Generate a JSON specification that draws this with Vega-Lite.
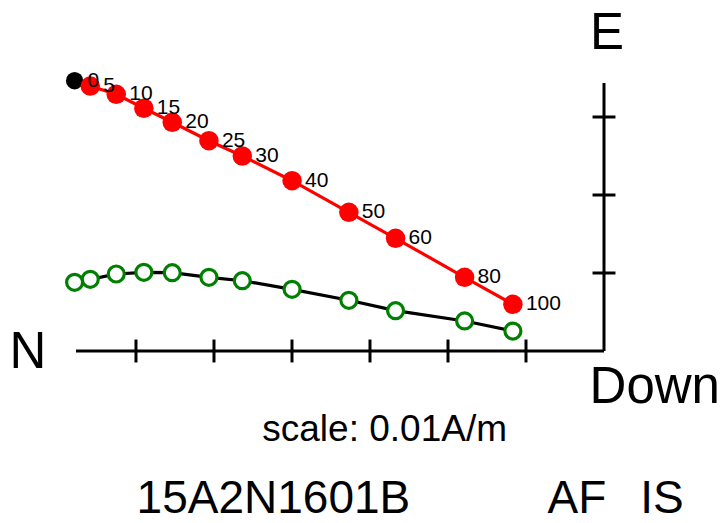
{
  "$schema": "https://vega.github.io/schema/vega-lite/v6.json",
  "width": 528,
  "height": 268,
  "autosize": {"type": "none"},
  "padding": {"left": 76, "top": 83, "right": 123, "bottom": 172},
  "background": "white",
  "config": {"view": {"stroke": null}, "font": "Liberation Sans"},
  "datasets": {
    "steps": [
      {"step": 0, "N": 0.06787, "E": 0.03465, "Up": 0.00881},
      {"step": 5, "N": 0.06586, "E": 0.03397, "Up": 0.00919},
      {"step": 10, "N": 0.06253, "E": 0.03291, "Up": 0.00987},
      {"step": 15, "N": 0.05899, "E": 0.03112, "Up": 0.01009},
      {"step": 20, "N": 0.05535, "E": 0.02932, "Up": 0.01004},
      {"step": 25, "N": 0.05065, "E": 0.02696, "Up": 0.00945},
      {"step": 30, "N": 0.04637, "E": 0.025, "Up": 0.00901},
      {"step": 40, "N": 0.03999, "E": 0.02183, "Up": 0.00791},
      {"step": 50, "N": 0.03271, "E": 0.01778, "Up": 0.0065},
      {"step": 60, "N": 0.02672, "E": 0.01445, "Up": 0.00517},
      {"step": 80, "N": 0.01787, "E": 0.00945, "Up": 0.00385},
      {"step": 100, "N": 0.01168, "E": 0.00599, "Up": 0.00256}
    ],
    "xticks": [{"v": 0.01}, {"v": 0.02}, {"v": 0.03}, {"v": 0.04}, {"v": 0.05}, {"v": 0.06}],
    "yticks": [{"v": 0.01}, {"v": 0.02}, {"v": 0.03}],
    "one": [{"k": 1}]
  },
  "layer": [
    {
      "data": {"name": "one"},
      "mark": {"type": "rule", "color": "black", "strokeWidth": 3},
      "encoding": {
        "x": {"datum": 0, "type": "quantitative", "axis": null, "scale": {"domain": [0, 0.06769], "reverse": true, "nice": false, "zero": false}},
        "x2": {"datum": 0.06769},
        "y": {"datum": 0, "type": "quantitative", "axis": null, "scale": {"domain": [0, 0.034359], "nice": false, "zero": false}}
      }
    },
    {
      "data": {"name": "one"},
      "mark": {"type": "rule", "color": "black", "strokeWidth": 3},
      "encoding": {
        "x": {"datum": 0, "type": "quantitative", "axis": null},
        "y": {"datum": 0, "type": "quantitative", "axis": null},
        "y2": {"datum": 0.034359}
      }
    },
    {
      "data": {"name": "xticks"},
      "mark": {"type": "rule", "color": "black", "strokeWidth": 3},
      "encoding": {
        "x": {"field": "v", "type": "quantitative", "axis": null},
        "y": {"datum": -0.00147, "type": "quantitative", "axis": null},
        "y2": {"datum": 0.00147}
      }
    },
    {
      "data": {"name": "yticks"},
      "mark": {"type": "rule", "color": "black", "strokeWidth": 3},
      "encoding": {
        "y": {"field": "v", "type": "quantitative", "axis": null},
        "x": {"datum": -0.00147, "type": "quantitative", "axis": null},
        "x2": {"datum": 0.00147}
      }
    },
    {
      "data": {"name": "steps"},
      "mark": {"type": "line", "color": "#ff0000", "strokeWidth": 3.2},
      "encoding": {
        "x": {"field": "N", "type": "quantitative", "axis": null},
        "y": {"field": "E", "type": "quantitative", "axis": null},
        "order": {"field": "step"}
      }
    },
    {
      "data": {"name": "steps"},
      "mark": {"type": "line", "color": "black", "strokeWidth": 3.2},
      "encoding": {
        "x": {"field": "N", "type": "quantitative", "axis": null},
        "y": {"field": "Up", "type": "quantitative", "axis": null},
        "order": {"field": "step"}
      }
    },
    {
      "data": {"name": "steps"},
      "mark": {"type": "point", "shape": "circle", "filled": true, "fill": "white", "stroke": "#008000", "strokeWidth": 3.2, "size": 256, "opacity": 1},
      "encoding": {
        "x": {"field": "N", "type": "quantitative", "axis": null},
        "y": {"field": "Up", "type": "quantitative", "axis": null}
      }
    },
    {
      "data": {"name": "steps"},
      "transform": [{"filter": "datum.step === 0"}],
      "mark": {"type": "point", "shape": "circle", "filled": true, "color": "black", "size": 300, "opacity": 1},
      "encoding": {
        "x": {"field": "N", "type": "quantitative", "axis": null},
        "y": {"field": "E", "type": "quantitative", "axis": null}
      }
    },
    {
      "data": {"name": "steps"},
      "transform": [{"filter": "datum.step > 0"}],
      "mark": {"type": "point", "shape": "circle", "filled": true, "color": "#ff0000", "size": 380, "opacity": 1},
      "encoding": {
        "x": {"field": "N", "type": "quantitative", "axis": null},
        "y": {"field": "E", "type": "quantitative", "axis": null}
      }
    },
    {
      "data": {"name": "steps"},
      "mark": {"type": "text", "align": "left", "baseline": "middle", "dx": 13, "fontSize": 21, "color": "black"},
      "encoding": {
        "x": {"field": "N", "type": "quantitative", "axis": null},
        "y": {"field": "E", "type": "quantitative", "axis": null},
        "text": {"field": "step", "type": "nominal"}
      }
    },
    {
      "data": {"name": "one"},
      "mark": {"type": "text", "text": "N", "align": "left", "baseline": "alphabetic", "fontSize": 51, "color": "black"},
      "encoding": {
        "x": {"datum": 0.0762, "type": "quantitative", "axis": null},
        "y": {"datum": -0.00218, "type": "quantitative", "axis": null}
      }
    },
    {
      "data": {"name": "one"},
      "mark": {"type": "text", "text": "E", "align": "center", "baseline": "alphabetic", "fontSize": 51, "color": "black"},
      "encoding": {
        "x": {"datum": -0.0004, "type": "quantitative", "axis": null},
        "y": {"datum": 0.03872, "type": "quantitative", "axis": null}
      }
    },
    {
      "data": {"name": "one"},
      "mark": {"type": "text", "text": "Down", "align": "left", "baseline": "alphabetic", "fontSize": 51, "color": "black"},
      "encoding": {
        "x": {"datum": 0.00185, "type": "quantitative", "axis": null},
        "y": {"datum": -0.00667, "type": "quantitative", "axis": null}
      }
    },
    {
      "data": {"name": "one"},
      "mark": {"type": "text", "text": "scale: 0.01A/m", "align": "center", "baseline": "alphabetic", "fontSize": 37, "color": "black"},
      "encoding": {
        "x": {"datum": 0.02812, "type": "quantitative", "axis": null},
        "y": {"datum": -0.01154, "type": "quantitative", "axis": null}
      }
    },
    {
      "data": {"name": "one"},
      "mark": {"type": "text", "text": "15A2N1601B", "align": "left", "baseline": "alphabetic", "fontSize": 46, "color": "black"},
      "encoding": {
        "x": {"datum": 0.05992, "type": "quantitative", "axis": null},
        "y": {"datum": -0.02077, "type": "quantitative", "axis": null}
      }
    },
    {
      "data": {"name": "one"},
      "mark": {"type": "text", "text": "AF", "align": "left", "baseline": "alphabetic", "fontSize": 46, "color": "black"},
      "encoding": {
        "x": {"datum": 0.00723, "type": "quantitative", "axis": null},
        "y": {"datum": -0.02077, "type": "quantitative", "axis": null}
      }
    },
    {
      "data": {"name": "one"},
      "mark": {"type": "text", "text": "IS", "align": "left", "baseline": "alphabetic", "fontSize": 46, "color": "black"},
      "encoding": {
        "x": {"datum": -0.00465, "type": "quantitative", "axis": null},
        "y": {"datum": -0.02077, "type": "quantitative", "axis": null}
      }
    }
  ]
}
